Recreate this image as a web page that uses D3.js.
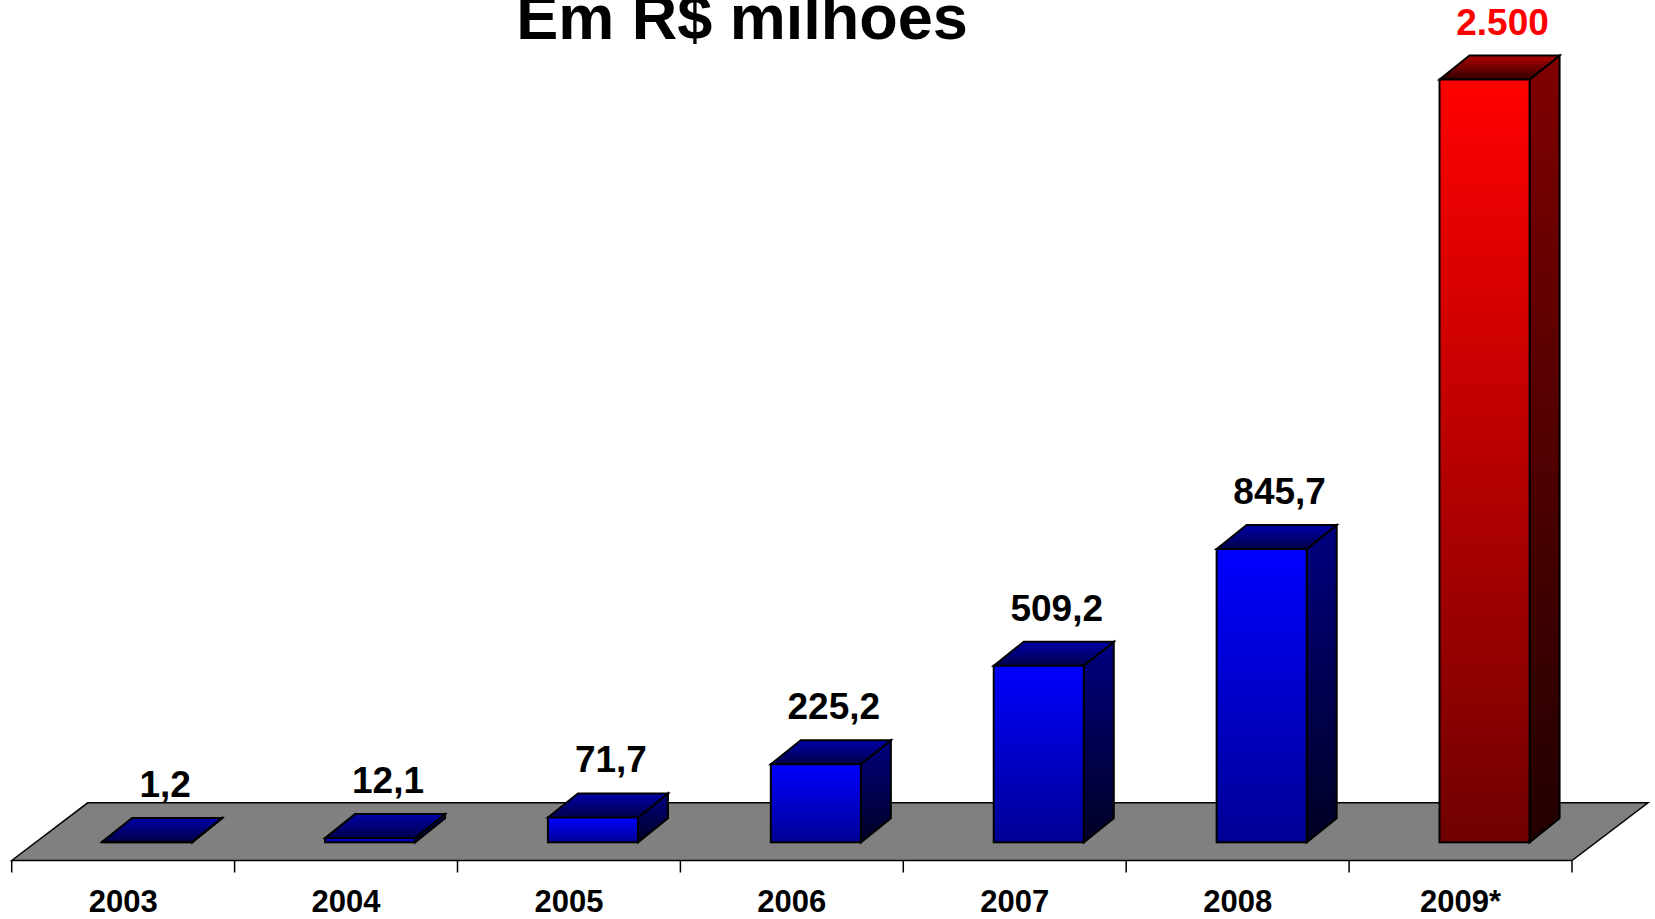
<!DOCTYPE html>
<html>
<head>
<meta charset="utf-8">
<script src="https://cdn.jsdelivr.net/npm/d3@7"></script>
<style>
  body { margin: 0; background: #fff; }
  text { font-family: "Liberation Sans", Arial, sans-serif; font-weight: bold; }
</style>
</head>
<body>
<div id="chart"></div>
<script>
// Data
const years = ["2003", "2004", "2005", "2006", "2007", "2008", "2009*"];
// bar heights as drawn (the 2009 bar is drawn shorter than its 2.500 label)
const values = [1.2, 12.1, 71.7, 225.2, 509.2, 845.7, 2200];
const valueLabels = ["1,2", "12,1", "71,7", "225,2", "509,2", "845,7", "2.500"];
const title = "Em R$ milhoes";

var width = 1655, height = 919;
var floorLeft = 11.7, floorRight = 1572;
var floorFront = 860.5;
var floorDepth = { dx: 76, dy: 57.7 };   // floor parallelogram offset
var barDepth = { dx: 30, dy: 24 };       // 3D offset of each bar
var barShift = 24;                       // bars sit a bit back on the floor

var svg = d3.select("#chart")
  .append("svg")
    .attr("width", width)
    .attr("height", height);

// gradients for the faces
var defs = svg.append("defs");
const palettes = {
  blue: { front: ["#0000FF", "#000095"], top: ["#0000A8", "#00004A"], side: ["#000080", "#000024"] },
  red:  { front: ["#FF0000", "#700000"], top: ["#B00000", "#300000"], side: ["#800000", "#220000"] }
};
Object.entries(palettes).forEach(([name, faces]) => {
  Object.entries(faces).forEach(([face, stops]) => {
    var g = defs.append("linearGradient")
      .attr("id", name + "-" + face)
      .attr("x1", 0).attr("y1", 0).attr("x2", 0).attr("y2", 1);
    g.append("stop").attr("offset", "0%").attr("stop-color", stops[0]);
    g.append("stop").attr("offset", "100%").attr("stop-color", stops[1]);
  });
});

var data = years.map((year, i) => ({ year: year, value: values[i], label: valueLabels[i] }));

// Scales
var x = d3.scaleBand()
    .domain(years)
    .range([floorLeft, floorRight]);

var xBar = d3.scaleBand()
    .domain(years)
    .range([floorLeft + barShift, floorRight + barShift])
    .paddingInner(0.596)
    .paddingOuter(0.298);

var y = d3.scaleLinear()
    .domain([0, 2200])
    .range([842.3, 79.5]);

// Floor
var floorPts = [
  [floorLeft, floorFront],
  [floorLeft + floorDepth.dx, floorFront - floorDepth.dy],
  [floorRight + floorDepth.dx, floorFront - floorDepth.dy],
  [floorRight, floorFront]
];
svg.append("polygon")
    .attr("points", floorPts.map(p => p.join(",")).join(" "))
    .attr("fill", "#808080")
    .attr("stroke", "#000")
    .attr("stroke-width", 1.5)
    .attr("stroke-linejoin", "miter");

// Category ticks on the front edge of the floor
var tickXs = years.map(d => x(d)).concat([floorRight]);
svg.append("g")
  .selectAll("line")
  .data(tickXs)
  .enter()
  .append("line")
    .attr("x1", d => d).attr("x2", d => d)
    .attr("y1", floorFront).attr("y2", floorFront + 12)
    .attr("stroke", "#000")
    .attr("stroke-width", 1.5);

// Bars
var bars = svg.append("g")
  .selectAll("g")
  .data(data)
  .enter()
  .append("g");

function colorOf(d) { return d.year.endsWith("*") ? "red" : "blue"; }

bars.each(function(d) {
  var g = d3.select(this);
  var x0 = xBar(d.year), w = xBar.bandwidth();
  var yTop = y(d.value), yBot = y(0);
  var dx = barDepth.dx, dy = barDepth.dy;
  var c = colorOf(d);

  g.append("polygon")
    .attr("points", [[x0 + w, yTop], [x0 + w + dx, yTop - dy], [x0 + w + dx, yBot - dy], [x0 + w, yBot]].map(p => p.join(",")).join(" "))
    .attr("fill", "url(#" + c + "-side)");

  g.append("polygon")
    .attr("points", [[x0, yTop], [x0 + dx, yTop - dy], [x0 + w + dx, yTop - dy], [x0 + w, yTop]].map(p => p.join(",")).join(" "))
    .attr("fill", "url(#" + c + "-top)");

  g.append("rect")
    .attr("x", x0)
    .attr("y", yTop)
    .attr("width", w)
    .attr("height", Math.max(yBot - yTop, 0.5))
    .attr("fill", "url(#" + c + "-front)");

  g.selectAll("polygon, rect")
    .attr("stroke", "#000")
    .attr("stroke-width", 2)
    .attr("stroke-linejoin", "miter");
});

// Value labels above the bars
svg.append("g")
  .selectAll("text")
  .data(data)
  .enter()
  .append("text")
    .attr("x", d => xBar(d.year) + xBar.bandwidth() / 2 + 18)
    .attr("y", d => y(d.value) - barDepth.dy - 21)
    .attr("text-anchor", "middle")
    .style("font-size", "37px")
    .attr("fill", d => colorOf(d) === "red" ? "#FF0000" : "#000")
    .text(d => d.label);

// Year labels
svg.append("g")
  .selectAll("text")
  .data(years)
  .enter()
  .append("text")
    .attr("x", d => x(d) + x.bandwidth() / 2)
    .attr("y", 912)
    .attr("text-anchor", "middle")
    .style("font-size", "31px")
    .attr("fill", "#000")
    .text(d => d);

// Title (top is cut off by the frame in the original)
svg.append("text")
    .attr("x", 742)
    .attr("y", 39)
    .attr("text-anchor", "middle")
    .style("font-size", "63px")
    .attr("fill", "#000")
    .text(title);
</script>
</body>
</html>
